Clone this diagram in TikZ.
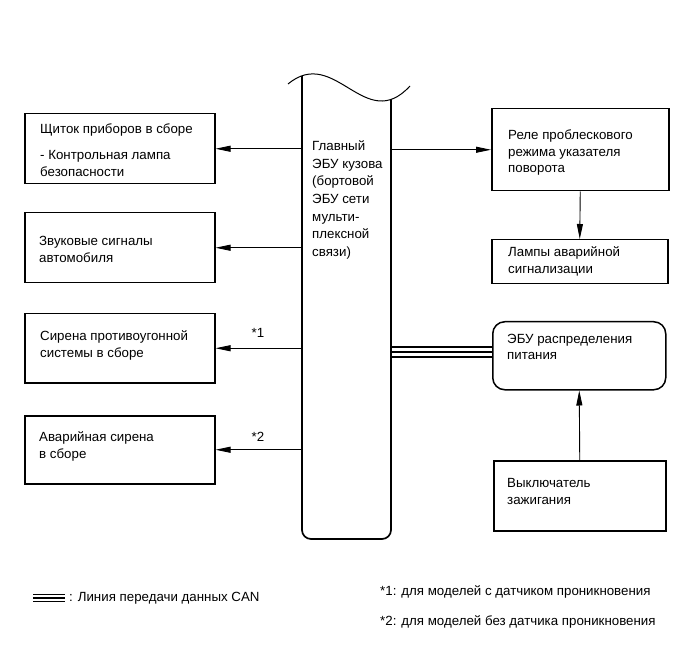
\documentclass[tikz,border=0pt]{standalone}
\usepackage{fontspec}
\setmainfont{Liberation Sans}
\usetikzlibrary{arrows.meta}
\begin{document}
\begin{tikzpicture}[x=1pt,y=-1pt,
  box/.style={draw, line width=1.5pt, anchor=north west, inner sep=0pt},
  lbl/.style={anchor=west, align=left, inner sep=0pt, font=\fontsize{13.3}{16.5}\selectfont},
  clbl/.style={anchor=west, align=left, inner sep=0pt, font=\fontsize{13.3}{17.6}\selectfont},
  arr/.style={line width=0.9pt, -{Triangle[length=15pt,width=6pt]}},
  can/.style={line width=1.3pt}]
\useasboundingbox (0,0) rectangle (691,660);

% central bar
\begin{scope}
  \clip (288,84) .. controls (335,45) and (365,135) .. (410,86) -- (410,600) -- (288,600) -- cycle;
  \draw[line width=1.7pt, rounded corners=9pt] (302,40) -- (302,539) -- (391,539) -- (391,40);
\end{scope}
\draw[line width=1pt] (288,84) .. controls (335,45) and (365,135) .. (410,86);
\coordinate (barL) at (302,0);
\coordinate (barR) at (391,0);
\node[clbl] (main) at (312,200) {Главный\\ЭБУ кузова\\(бортовой\\ЭБУ сети\\мульти-\\плексной\\связи)};

% left boxes
\node[box, minimum width=190pt, minimum height=70pt] (box1) at (24,113) {};
\node[box, minimum width=190pt, minimum height=70pt] (box2) at (24,212) {};
\node[box, minimum width=190pt, minimum height=69pt] (box3) at (24,313) {};
\node[box, minimum width=190pt, minimum height=68pt] (box4) at (24,415) {};
\node[lbl] (t1) at (40,150) {Щиток приборов в сборе\\[10pt]- Контрольная лампа\\безопасности};
\node[lbl] (t2) at (39,249.5) {Звуковые сигналы\\автомобиля};
\node[lbl] (t3) at (40,345.5) {Сирена противоугонной\\системы в сборе};
\node[lbl] (t4) at (39,446.5) {Аварийная сирена\\в сборе};

% right boxes
\node[box, minimum width=177pt, minimum height=82pt] (relay) at (491,108) {};
\node[box, minimum width=176pt, minimum height=44pt] (lamps) at (491,239) {};
\node[box, rounded corners=12pt, minimum width=173pt, minimum height=68pt] (ecu) at (492,321) {};
\node[box, minimum width=172pt, minimum height=70pt] (ign) at (493,460) {};
\node[lbl] (t5) at (508,153) {Реле проблескового\\режима указателя\\поворота};
\node[lbl] (t6) at (508,261.5) {Лампы аварийной\\сигнализации};
\node[lbl] (t7) at (507,347) {ЭБУ распределения\\питания};
\node[lbl] (t8) at (507,491.5) {Выключатель\\зажигания};

% connectors
\draw[arr] (barL |- box1.east) -- (box1.east);
\draw[arr] (barL |- box2.east) -- (box2.east);
\draw[arr] (barL |- box3.east) -- (box3.east);
\draw[arr] (barL |- box4.east) -- (box4.east);
\draw[arr] (barR |- relay.west) -- (relay.west);
\draw[arr] (relay.south) -- (lamps.north);
\draw[arr] (ign.north) -- (ecu.south);
\draw[can] (barR |- 0,347) -- (ecu.west |- 0,347);
\draw[can] (barR |- 0,352) -- (ecu.west |- 0,352);
\draw[can] (barR |- 0,357) -- (ecu.west |- 0,357);
\node[lbl, anchor=center] (s1) at (258,333) {*1};
\node[lbl, anchor=center] (s2) at (258,437) {*2};

% legend
\coordinate (lg1) at (33,594.5);
\coordinate (lg2) at (65,594.5);
\draw[can] (lg1) -- (lg2);
\draw[can] ([yshift=-3.5pt]lg1) -- ([yshift=-3.5pt]lg2);
\draw[can] ([yshift=-7pt]lg1) -- ([yshift=-7pt]lg2);
\node[lbl] (lgt) at (69,598) {: Линия передачи данных CAN};
\node[lbl] (n1) at (380,592) {*1: для моделей с датчиком проникновения};
\node[lbl] (n2) at (380,622) {*2: для моделей без датчика проникновения};
\end{tikzpicture}
\end{document}
